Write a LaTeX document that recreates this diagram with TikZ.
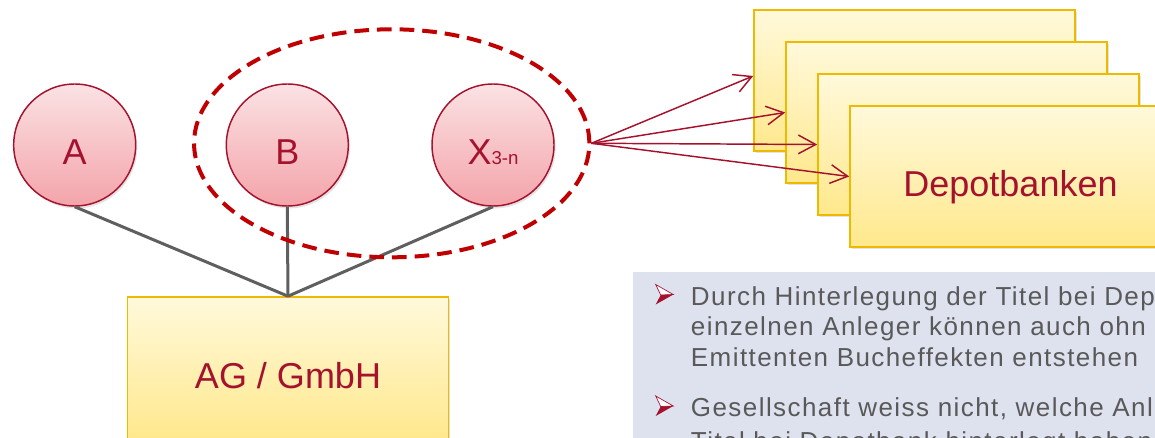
\documentclass[tikz,border=0pt]{standalone}
\usepackage{fontspec}
\setmainfont{Liberation Sans}
\newfontfamily\listenschrift[LetterSpace=5.5]{Liberation Sans}
\usetikzlibrary{arrows.meta,shapes.geometric,shadows}

\definecolor{dunkelrot}{RGB}{165,18,45}
\definecolor{signalrot}{RGB}{192,0,0}
\definecolor{rosahell}{RGB}{251,226,228}
\definecolor{rosa}{RGB}{243,164,170}
\definecolor{gelbhell}{RGB}{255,249,219}
\definecolor{gelb}{RGB}{255,232,140}
\definecolor{gold}{RGB}{238,186,0}
\definecolor{grau}{RGB}{95,95,95}
\definecolor{textgrau}{RGB}{89,89,89}
\definecolor{panel}{RGB}{222,226,238}

\tikzset{
  schatten/.style={drop shadow={opacity=.22, shadow xshift=1.2pt, shadow yshift=-1.8pt}},
  aktionaer/.style={circle, draw=dunkelrot, line width=1.1pt, top color=rosahell, bottom color=rosa,
    minimum size=91.5pt, inner sep=0pt, text=dunkelrot, font=\fontsize{27}{30}\selectfont,
    text height=29.8pt, text depth=0pt, schatten},
  kasten/.style={rectangle, draw=gold, line width=1.2pt, top color=gelbhell, bottom color=gelb,
    minimum width=240.75pt, minimum height=105.75pt, inner sep=0pt, text=dunkelrot,
    font=\fontsize{27}{30}\selectfont, text height=29.5pt, text depth=0pt, schatten},
  verbindung/.style={draw=grau, line width=2.25pt},
  gruppe/.style={ellipse, draw=signalrot, line width=3pt, dash pattern=on 11pt off 6pt,
    minimum width=296.5pt, minimum height=171pt, inner sep=0pt},
  zuweisung/.style={draw=dunkelrot, line width=1.1pt, -{Straight Barb[length=13pt,width=14pt]}},
  zeile/.style={anchor=base west, inner sep=0pt, text=textgrau,
    font=\listenschrift\fontsize{19.5}{23}\selectfont},
  pics/pfeil/.style={code={
    \filldraw[draw=dunkelrot, fill=white, line width=.5pt] (-8.3,-10) -- (9.3,0) -- (-3.3,0.5) -- cycle;
    \fill[dunkelrot] (-3.3,0.5) -- (9.3,0) -- (-8.3,10) -- cycle;
  }}
}

\begin{document}
\begin{tikzpicture}[x=0.75pt,y=-0.75pt]
\useasboundingbox (0,0) rectangle (1155,438);

% Hintergrund rechts unten
\fill[panel] (633,272) rectangle (1165,450);

% Aktionaere und Gesellschaft
\node[kasten, minimum height=108pt] (ag) at (288,369) {AG / GmbH};
\node[aktionaer] (A) at (74.7,145) {A};
\node[aktionaer] (B) at (287.3,145) {B};
\node[aktionaer] (X) at (493,145) {X\fontsize{14}{16}\selectfont 3-n};
\draw[verbindung] (A.south) -- (ag.north);
\draw[verbindung] (B.south) -- (ag.north);
\draw[verbindung] (X.south) -- (ag.north);
\node[gruppe] (grp) at (391.7,143.3) {};

% Stapel der Depotbanken
\node[kasten] (bk1) at (914.5,80.5) {};
\node[kasten] (bk2) at (946.5,112.5) {};
\node[kasten] (bk3) at (978.5,144.5) {};
\node[kasten] (bk4) at (1010.5,176.5) {Depotbanken};
\draw[zuweisung] (grp.east) -- ([yshift=3.4pt]bk1.west);
\draw[zuweisung] (grp.east) -- (bk2.west);
\draw[zuweisung] (grp.east) -- (bk3.west);
\draw[zuweisung] (grp.east) -- (bk4.west);

% Aufzaehlung
\pic (p1) at (664,294.5) {pfeil};
\node[zeile] (l1) at (690.7,305) {Durch Hinterlegung der Titel bei Dep};
\node[zeile] (l2) at (690.7,335.5) {einzelnen Anleger können auch ohn};
\node[zeile] (l3) at (690.7,366) {Emittenten Bucheffekten entstehen};
\pic (p2) at (664,406) {pfeil};
\node[zeile] (l4) at (690.7,416.5) {Gesellschaft weiss nicht, welche Anl};
\node[zeile] (l5) at (690.7,450) {Titel bei Depotbank hinterlegt haben};
\end{tikzpicture}
\end{document}
